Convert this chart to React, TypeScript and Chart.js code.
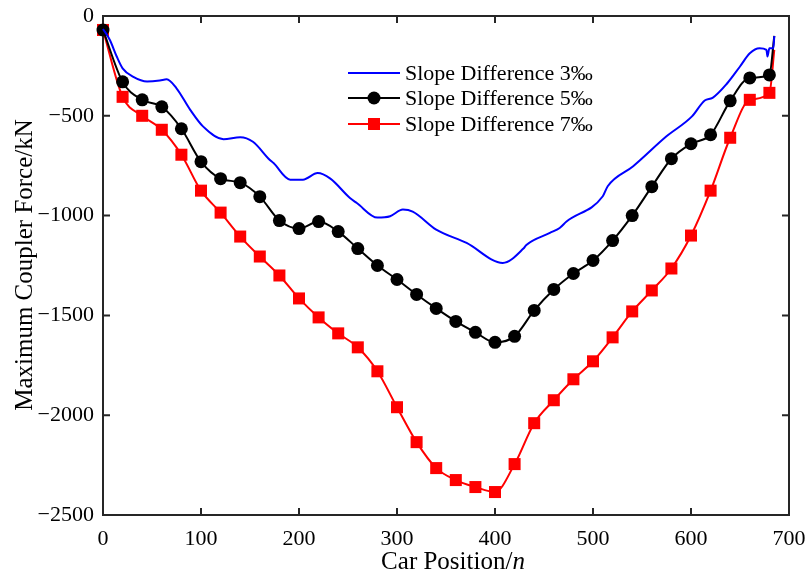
import React, { useEffect, useRef } from "react";
import { Chart, registerables } from "chart.js";

Chart.register(...registerables);

const markerX = [0, 20, 40, 60, 80, 100, 120, 140, 160, 180, 200, 220, 240, 260, 280, 300, 320, 340, 360, 380, 400, 420, 440, 460, 480, 500, 520, 540, 560, 580, 600, 620, 640, 660, 680, 685];

const slope5 = [-70, -330, -420, -455, -565, -730, -815, -835, -905, -1025, -1065, -1030, -1080, -1165, -1250, -1320, -1395, -1465, -1530, -1585, -1635, -1605, -1475, -1370, -1290, -1225, -1125, -1000, -855, -715, -640, -595, -425, -310, -295, -100];

const slope7 = [-70, -405, -500, -570, -695, -875, -985, -1105, -1205, -1300, -1415, -1510, -1590, -1660, -1780, -1960, -2135, -2265, -2325, -2360, -2385, -2245, -2040, -1925, -1820, -1730, -1610, -1480, -1375, -1265, -1100, -875, -610, -420, -385, -170];

const blueX = [0, 7, 14, 20, 31, 45, 58, 65, 75, 89, 102, 123, 140, 153, 170, 174, 191, 204, 219, 232, 252, 259, 280, 293, 306, 316, 340, 371, 408, 429, 432, 456, 466, 473, 510, 515, 541, 575, 601, 614, 622, 637, 650, 660, 670, 677, 678, 680, 684, 685];
const slope3 = [-65, -120, -203, -262, -305, -328, -323, -317, -362, -470, -553, -617, -607, -630, -720, -737, -820, -820, -787, -815, -912, -937, -1010, -1003, -970, -980, -1070, -1137, -1237, -1165, -1147, -1087, -1062, -1030, -903, -853, -753, -603, -503, -423, -410, -337, -253, -187, -162, -170, -203, -162, -162, -100];

const xTicks = [0, 100, 200, 300, 400, 500, 600, 700];
const yTicks = [-2500, -2000, -1500, -1000, -500, 0];

const legendLabels = ["Slope Difference 3\u2030", "Slope Difference 5\u2030", "Slope Difference 7\u2030"];
const xTitle = "Car Position/";
const xTitleItalic = "n";
const yTitle = "Maximum Coupler Force/kN";

const SERIF = '"Liberation Serif", "Times New Roman", serif';
const FRAME = "#262626";

export default function App() {
  const ref = useRef<HTMLCanvasElement>(null);
  useEffect(() => {
    const canvas = ref.current!;
    const markerRadius = (r: number) => (ctx: any) => {
      const raw = ctx.raw as { x: number };
      return raw && raw.x % 20 === 0 ? r : 0;
    };
    const framePlugin = {
      id: "frame",
      beforeDatasetsDraw(chart: any) {
        const { ctx, chartArea: a, scales } = chart;
        ctx.save();
        ctx.strokeStyle = FRAME;
        ctx.lineWidth = 2;
        ctx.strokeRect(a.left, a.top, a.right - a.left, a.bottom - a.top);
        const tl = 7;
        ctx.beginPath();
        for (const v of xTicks) {
          const px = scales.x.getPixelForValue(v);
          ctx.moveTo(px, a.bottom);
          ctx.lineTo(px, a.bottom - tl);
          ctx.moveTo(px, a.top);
          ctx.lineTo(px, a.top + tl);
        }
        for (const v of yTicks) {
          const py = scales.y.getPixelForValue(v);
          ctx.moveTo(a.left, py);
          ctx.lineTo(a.left + tl, py);
          ctx.moveTo(a.right, py);
          ctx.lineTo(a.right - tl, py);
        }
        ctx.stroke();
        ctx.restore();
      },
      afterDraw(chart: any) {
        const { ctx } = chart;
        ctx.save();
        const rows = [
          { y: 73, color: "#0000ff", style: "none" },
          { y: 98, color: "#000000", style: "circle" },
          { y: 124, color: "#ff0000", style: "rect" },
        ];
        rows.forEach((r, i) => {
          ctx.strokeStyle = r.color;
          ctx.lineWidth = 2;
          ctx.beginPath();
          ctx.moveTo(348, r.y);
          ctx.lineTo(400, r.y);
          ctx.stroke();
          ctx.fillStyle = r.color;
          if (r.style === "circle") {
            ctx.beginPath();
            ctx.arc(374, r.y, 6.5, 0, Math.PI * 2);
            ctx.fill();
          } else if (r.style === "rect") {
            ctx.fillRect(368, r.y - 6, 12, 12);
          }
          ctx.fillStyle = "#000";
          ctx.font = `22px ${SERIF}`;
          ctx.textAlign = "left";
          ctx.textBaseline = "middle";
          ctx.fillText(legendLabels[i], 405, r.y + 1);
        });
        // x title
        const tf = 25;
        ctx.font = `${tf}px ${SERIF}`;
        const w1 = ctx.measureText(xTitle).width;
        ctx.font = `italic ${tf}px ${SERIF}`;
        const w2 = ctx.measureText(xTitleItalic).width;
        const cx = 453;
        const sx = cx - (w1 + w2) / 2;
        ctx.textAlign = "left";
        ctx.textBaseline = "alphabetic";
        ctx.fillStyle = "#000";
        ctx.font = `${tf}px ${SERIF}`;
        ctx.fillText(xTitle, sx, 569);
        ctx.font = `italic ${tf}px ${SERIF}`;
        ctx.fillText(xTitleItalic, sx + w1, 569);
        // y title
        ctx.translate(32, 265);
        ctx.rotate(-Math.PI / 2);
        ctx.font = `${tf}px ${SERIF}`;
        ctx.textAlign = "center";
        ctx.fillText(yTitle, 0, 0);
        ctx.restore();
      },
    };

    const chart = new Chart(canvas, {
      type: "line",
      data: {
        datasets: [
          {
            label: legendLabels[0],
            data: blueX.map((x, i) => ({ x, y: slope3[i] })),
            borderColor: "#0000ff",
            borderWidth: 2,
            pointRadius: 0,
            cubicInterpolationMode: "monotone",
            clip: false as any,
          },
          {
            label: legendLabels[1],
            data: markerX.map((x, i) => ({ x, y: slope5[i] })),
            borderColor: "#000000",
            backgroundColor: "#000000",
            borderWidth: 2,
            pointStyle: "circle",
            pointRadius: markerRadius(6.5) as any,
            pointBorderWidth: 0,
            pointHoverRadius: 0,
            cubicInterpolationMode: "monotone",
            clip: false as any,
          },
          {
            label: legendLabels[2],
            data: markerX.map((x, i) => ({ x, y: slope7[i] })),
            borderColor: "#ff0000",
            backgroundColor: "#ff0000",
            borderWidth: 2,
            pointStyle: "rect",
            pointRadius: markerRadius(8.5) as any,
            pointBorderWidth: 0,
            pointHoverRadius: 0,
            cubicInterpolationMode: "monotone",
            clip: false as any,
          },
        ],
      },
      options: {
        responsive: false,
        animation: false,
        events: [],
        layout: { padding: { top: 16, right: 22, left: 0, bottom: 0 } },
        plugins: { legend: { display: false }, tooltip: { enabled: false } },
        scales: {
          x: {
            type: "linear",
            min: 0,
            max: 700,
            afterBuildTicks: (s: any) => {
              s.ticks = xTicks.map((v) => ({ value: v }));
            },
            afterFit: (s: any) => {
              s.height = 64;
              s.paddingLeft = 0;
              s.paddingRight = 0;
            },
            grid: { display: false, drawTicks: false },
            border: { display: false },
            ticks: {
              color: "#000",
              padding: 11,
              maxRotation: 0,
              font: { family: SERIF, size: 22 },
            },
          },
          y: {
            type: "linear",
            min: -2500,
            max: 0,
            afterBuildTicks: (s: any) => {
              s.ticks = yTicks.map((v) => ({ value: v }));
            },
            afterFit: (s: any) => {
              s.width = 103;
              s.paddingTop = 0;
              s.paddingBottom = 0;
            },
            grid: { display: false, drawTicks: false },
            border: { display: false },
            ticks: {
              color: "#000",
              padding: 9,
              font: { family: SERIF, size: 22 },
              callback: (v: any) => (v < 0 ? "\u2212" + Math.abs(v) : String(v)),
            },
          },
        },
      },
      plugins: [framePlugin],
    });
    return () => chart.destroy();
  }, []);
  return (
    <div style={{ position: "absolute", left: 0, top: 0, width: 811, height: 579, background: "#fff" }}>
      <canvas ref={ref} width={811} height={579} />
    </div>
  );
}
